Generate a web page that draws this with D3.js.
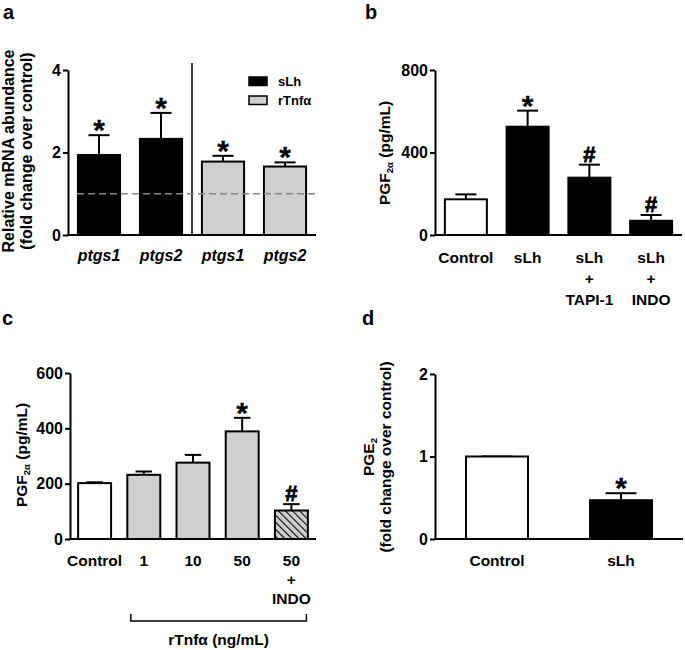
<!DOCTYPE html>
<html>
<head>
<meta charset="utf-8">
<script src="https://cdn.jsdelivr.net/npm/d3@7"></script>
<style>
  body { margin: 0; background: #fff; }
  svg text { font-family: "Liberation Sans", Arial, sans-serif; font-weight: bold; fill: #000; }
</style>
</head>
<body>
<svg id="fig" width="685" height="650"></svg>
<script>
// panel a: relative mRNA abundance
var aLabels = ['ptgs1', 'ptgs2', 'ptgs1', 'ptgs2'];
var aGroup = ['sLh', 'sLh', 'rTnfα', 'rTnfα'];
var aMean = [1.94, 2.33, 1.78, 1.66];
var aSem = [0.48, 0.63, 0.14, 0.10];
var aSig = ['*', '*', '*', '*'];
var aTicks = [0, 2, 4];

// panel b: PGF2a, sLh / TAPI-1 / INDO
var bLabels = [['Control'], ['sLh'], ['sLh', '+', 'TAPI-1'], ['sLh', '+', 'INDO']];
var bFill = ['white', 'black', 'black', 'black'];
var bMean = [173, 525, 278, 69];
var bSem = [24, 78, 63, 28];
var bSig = ['', '*', '#', '#'];
var bTicks = [0, 400, 800];

// panel c: PGF2a, rTnfa doses
var cLabels = [['Control'], ['1'], ['10'], ['50'], ['50', '+', 'INDO']];
var cFill = ['white', 'gray', 'gray', 'gray', 'hatch'];
var cMean = [202, 232, 276, 389, 103];
var cSem = [3, 12, 28, 49, 23];
var cSig = ['', '', '', '*', '#'];
var cTicks = [0, 200, 400, 600];

// panel d: PGE2
var dLabels = [['Control'], ['sLh']];
var dFill = ['white', 'black'];
var dMean = [1, 0.47];
var dSem = [0, 0.085];
var dSig = ['', '*'];
var dTicks = [0, 1, 2];

var GRAY = '#cfcfcf';
var svg = d3.select('#fig');

var defs = svg.append('defs');
var pat = defs.append('pattern').attr('id', 'hatch')
  .attr('patternUnits', 'userSpaceOnUse')
  .attr('width', 5).attr('height', 5)
  .attr('patternTransform', 'rotate(-45)');
pat.append('rect').attr('width', 5).attr('height', 5).attr('fill', GRAY);
pat.append('line').attr('x1', 0).attr('y1', 0).attr('x2', 0).attr('y2', 5)
  .attr('stroke', '#000').attr('stroke-width', 2.2);

function fillOf(f) {
  if (f === 'gray') return GRAY;
  if (f === 'hatch') return 'url(#hatch)';
  return f;
}

// one bar panel
function panel(o) {
  var x = d3.scaleBand().domain(d3.range(o.mean.length))
    .range([o.x0, o.x1]).paddingInner(o.pad).paddingOuter(o.pad / 2);
  var y = d3.scaleLinear().domain([0, o.ticks[o.ticks.length - 1]]).range([o.y0, o.y1]);
  var g = svg.append('g');
  var bw = x.bandwidth();

  // error bars (upper only)
  g.selectAll('line.err').data(o.mean).enter().append('line')
    .attr('x1', function (d, i) { return x(i) + bw / 2; })
    .attr('x2', function (d, i) { return x(i) + bw / 2; })
    .attr('y1', function (d) { return y(d); })
    .attr('y2', function (d, i) { return y(d + o.sem[i]); })
    .attr('stroke', '#000').attr('stroke-width', 2);
  g.selectAll('line.cap').data(o.mean).enter().append('line')
    .attr('x1', function (d, i) { return x(i) + bw / 4; })
    .attr('x2', function (d, i) { return x(i) + bw * 3 / 4; })
    .attr('y1', function (d, i) { return y(d + o.sem[i]); })
    .attr('y2', function (d, i) { return y(d + o.sem[i]); })
    .attr('stroke', '#000').attr('stroke-width', 2);

  g.selectAll('rect.bar').data(o.mean).enter().append('rect')
    .attr('x', function (d, i) { return x(i); })
    .attr('y', function (d) { return y(d); })
    .attr('width', bw)
    .attr('height', function (d) { return y(0) - y(d); })
    .attr('fill', function (d, i) { return fillOf(o.fill[i]); })
    .attr('stroke', '#000').attr('stroke-width', 2);

  // significance marks
  g.selectAll('text.sig').data(o.sig).enter().append('text')
    .attr('x', function (d, i) { return x(i) + bw / 2; })
    .attr('y', function (d, i) {
      var top = y(o.mean[i] + o.sem[i]);
      return d === '*' ? top + 5 : top - 3;
    })
    .attr('text-anchor', 'middle')
    .style('font-size', function (d) { return d === '*' ? '30px' : '22px'; })
    .style('stroke', '#000').style('stroke-width', function (d) { return d === '#' ? 0.8 : 0.3; })
    .text(function (d) { return d; });

  // axes
  var ax = d3.axisLeft(y).tickValues(o.ticks).tickFormat(d3.format('d'))
    .tickSize(5).tickSizeOuter(0).tickPadding(2);
  var ag = g.append('g').attr('transform', 'translate(' + o.x0 + ',0)').call(ax);
  ag.select('.domain').attr('stroke-width', 2);
  ag.selectAll('.tick line').attr('stroke-width', 2);
  ag.selectAll('.tick text').style('font-size', '16px')
    .style('font-family', '"Liberation Sans", Arial, sans-serif').style('font-weight', 'bold');

  g.append('line').attr('x1', o.x0 - 1).attr('x2', o.x1)
    .attr('y1', y(0)).attr('y2', y(0))
    .attr('stroke', '#000').attr('stroke-width', 2);

  // category labels
  if (o.labels) {
    o.labels.forEach(function (lines, i) {
      lines.forEach(function (s, k) {
        g.append('text')
          .attr('x', x(i) + bw / 2)
          .attr('y', o.labelY + k * o.lineH)
          .attr('text-anchor', 'middle')
          .style('font-size', o.italic ? '16px' : '15.5px')
          .style('font-style', o.italic ? 'italic' : 'normal')
          .text(s);
      });
    });
  }
  return { x: x, y: y, g: g };
}

function letter(s, x, y) {
  svg.append('text').attr('x', x).attr('y', y).style('font-size', '20px').text(s);
}

// rotated y title; parts = [[text, sub?], ...]
function yTitle(cx, cy, parts, size) {
  var t = svg.append('text')
    .attr('transform', 'translate(' + cx + ',' + cy + ') rotate(-90)')
    .attr('text-anchor', 'middle')
    .style('font-size', size + 'px');
  parts.forEach(function (p) {
    if (p[1]) {
      t.append('tspan').attr('baseline-shift', '-25%').style('font-size', (size * 0.62) + 'px').text(p[0]);
    } else {
      t.append('tspan').text(p[0]);
    }
  });
}

// ---- a ----
var pa = panel({
  mean: aMean, sem: aSem, sig: aSig, ticks: aTicks,
  fill: aGroup.map(function (d) { return d === 'sLh' ? 'black' : 'gray'; }),
  x0: 68, x1: 316, y0: 235, y1: 70, pad: 0.32,
  labels: aLabels.map(function (d) { return [d]; }), labelY: 261, lineH: 0, italic: true
});
var sepX = (pa.x(1) + pa.x.bandwidth() + pa.x(2)) / 2;
pa.g.append('line').attr('x1', sepX).attr('x2', sepX).attr('y1', 63).attr('y2', pa.y(0))
  .attr('stroke', '#000').attr('stroke-width', 1.5);
pa.g.append('line').attr('x1', 77).attr('x2', 317).attr('y1', pa.y(1)).attr('y2', pa.y(1))
  .attr('stroke', '#888').attr('stroke-width', 1.5).attr('stroke-dasharray', '7,4');
var legendKeys = ['sLh', 'rTnfα'];
legendKeys.forEach(function (k, i) {
  pa.g.append('rect').attr('x', 249).attr('y', 77 + i * 19).attr('width', 18).attr('height', 8.5)
    .attr('fill', k === 'sLh' ? '#000' : GRAY).attr('stroke', '#000').attr('stroke-width', 1.5);
  pa.g.append('text').attr('x', 278).attr('y', 86 + i * 19).style('font-size', '13px').text(k);
});
yTitle(14, 151, [['Relative mRNA abundance']], 16);
yTitle(32, 151, [['(fold change over control)']], 16);
letter('a', 3, 19);

// ---- b ----
panel({
  mean: bMean, sem: bSem, sig: bSig, ticks: bTicks, fill: bFill,
  x0: 435, x1: 682, y0: 235, y1: 70, pad: 0.32,
  labels: bLabels, labelY: 263, lineH: 21
});
yTitle(390, 153, [['PGF'], ['2α', true], ['  (pg/mL)']], 15.5);
letter('b', 365, 19);

// ---- c ----
var pc = panel({
  mean: cMean, sem: cSem, sig: cSig, ticks: cTicks, fill: cFill,
  x0: 70, x1: 316, y0: 539, y1: 373, pad: 0.33,
  labels: cLabels, labelY: 566, lineH: 19
});
var bx0 = pc.x(1) + pc.x.bandwidth() / 2 - 13, bx1 = pc.x(4) + pc.x.bandwidth() / 2 + 15;
pc.g.append('path')
  .attr('d', 'M' + bx0 + ',614V621H' + bx1 + 'V614')
  .attr('fill', 'none').attr('stroke', '#000').attr('stroke-width', 1.5);
pc.g.append('text').attr('x', (bx0 + bx1) / 2).attr('y', 645).attr('text-anchor', 'middle')
  .style('font-size', '15.5px').text('rTnfα (ng/mL)');
yTitle(27, 455, [['PGF'], ['2α', true], ['  (pg/mL)']], 15.5);
letter('c', 2, 325);

// ---- d ----
panel({
  mean: dMean, sem: dSem, sig: dSig, ticks: dTicks, fill: dFill,
  x0: 435, x1: 683, y0: 539, y1: 374, pad: 0.5,
  labels: dLabels, labelY: 566, lineH: 0
});
yTitle(374, 457, [['PGE'], ['2', true]], 15.5);
yTitle(391, 457, [['(fold change over control)']], 15.5);
letter('d', 362, 325);
</script>
</body>
</html>
